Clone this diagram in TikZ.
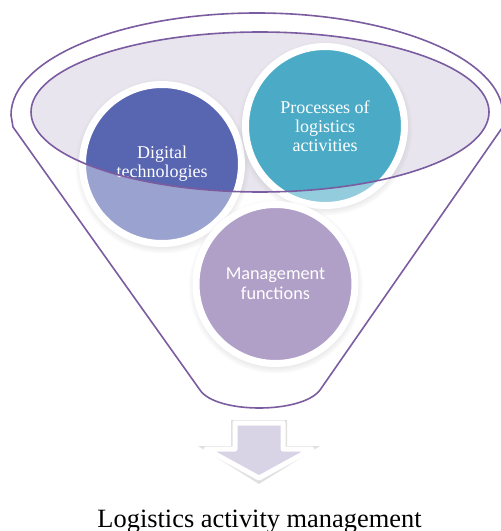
\documentclass[tikz,border=0pt]{standalone}
\usepackage{fontspec}
\setmainfont{Liberation Serif}
\newfontfamily\bubblesans{Carlito}
\usetikzlibrary{shadows,fadings}

\definecolor{digitalblue}{HTML}{5865B0}
\definecolor{processteal}{HTML}{4BABC6}
\definecolor{managepurple}{HTML}{B09FC7}
\definecolor{funnelline}{HTML}{7B5CA0}
\definecolor{rimfill}{HTML}{E8E5EE}
\definecolor{arrowfill}{HTML}{D8D3E5}

\begin{document}
\begin{tikzpicture}[x=0.75pt, y=-0.75pt,
		funnel/.style={draw=funnelline, line width=1.2pt},
		bubble/.style={circle, draw=white, line width=5.25pt, minimum size=119.25pt, inner sep=0pt,
			align=center, text=white,
			circular drop shadow={shadow xshift=0pt, shadow yshift=-1.5pt, shadow scale=1.1, opacity=0.3}},
		serifbubble/.style={bubble, font=\fontsize{13.5}{14.3}\selectfont},
		sansbubble/.style={bubble, font=\bubblesans\fontsize{13.7}{15}\selectfont}]
			\useasboundingbox (0,0) rectangle (500,531);

			% Draw rim of the funnel
			\fill[rimfill] (260,112) ellipse[x radius=229, y radius=80];

			% Draw the two upper bubbles
			\node[serifbubble, fill=digitalblue] (digital) at (162,164) {Digital\\technologies};
			\node[serifbubble, fill=processteal] (processes) at (325,126) {Processes of\\logistics\\activities};

			% Lighten the parts below the rim
			\begin{scope}
				\clip (digital.center) circle[radius=80] (processes.center) circle[radius=80];
				\fill[white, opacity=0.4, even odd rule] (0,0) rectangle (500,531)
					(260,112) ellipse[x radius=229, y radius=80];
			\end{scope}

			% Draw rim outline and funnel body
			\draw[funnel] (260,112) ellipse[x radius=229, y radius=80];
			\draw[funnel] (11,115) arc[start angle=180, end angle=360, x radius=246, y radius=102]
				-- (502,128) -- (320,390) .. controls (302,414) and (216,414) .. (200,390) -- (13,127) -- cycle;

			% Draw the lower bubble
			\node[sansbubble, fill=managepurple] (management) at (275.5,284) {Management\\functions};

			% Draw arrow and result
			\fill[black, opacity=0.12] (231,420) -- (287,420) -- (287,446) -- (320,446) -- (259,484) -- (198,446) -- (231,446) -- cycle;
			\draw[white, line width=3.75pt, line join=round, fill=arrowfill]
				(235,423) -- (283,423) -- (283,449) -- (312,449) -- (259,478) -- (206,449) -- (235,449) -- cycle;
			\node[font=\fontsize{19.8}{22}\selectfont, anchor=base] (result) at (259.5,527) {Logistics activity management};

		\end{tikzpicture}
\end{document}
